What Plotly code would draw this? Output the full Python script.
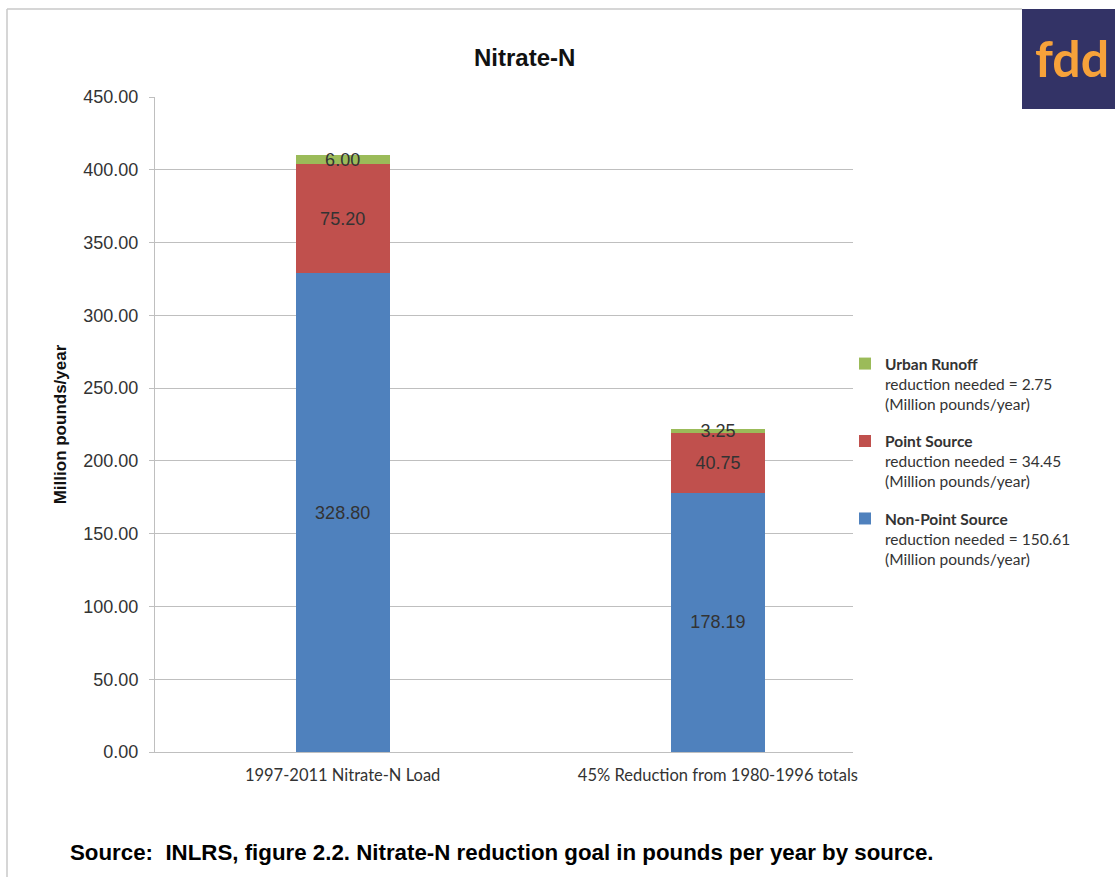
import plotly.graph_objects as go

categories = ["1997-2011 Nitrate-N Load", "45% Reduction from 1980-1996 totals"]
non_point = [328.80, 178.19]
point_src = [75.20, 40.75]
urban = [6.00, 3.25]
series_names = [
    "<b>Non-Point Source</b><br>reduction needed = 150.61<br>(Million pounds/year)",
    "<b>Point Source</b><br>reduction needed = 34.45<br>(Million pounds/year)",
    "<b>Urban Runoff</b><br>reduction needed = 2.75<br>(Million pounds/year)",
]
colors = ["#4f81bd", "#c0504d", "#9bbb59"]
legend_ranks = [3, 2, 1]
y_ticks = [0, 50, 100, 150, 200, 250, 300, 350, 400, 450]

W, H = 1115, 877
L, R, T, B = 155, 262, 97, 125
PW, PH = W - L - R, H - T - B


def xp(px):
    return (px - L) / PW


def yp(py):
    return (H - B - py) / PH


fig = go.Figure()
for i, (vals, name, col, rk) in enumerate(zip([non_point, point_src, urban], series_names, colors, legend_ranks)):
    fig.add_trace(go.Bar(
        x=categories, y=vals, name=name, legendgroup=f"g{i}", legendrank=rk,
        marker=dict(color=col, line=dict(width=0)),
        width=0.25,
        texttemplate="%{y:.2f}", textposition="inside", insidetextanchor="middle",
        textangle=0, constraintext="none",
        textfont=dict(family="Liberation Sans, Arial", size=18, color="#333333"),
        cliponaxis=False,
    ))

fig.update_layout(
    width=W, height=H,
    margin=dict(l=L, r=R, t=T, b=B),
    barmode="stack",
    paper_bgcolor="white", plot_bgcolor="white",
    showlegend=True,
    legend=dict(
        x=xp(845), y=yp(347), xanchor="left", yanchor="top",
        traceorder="grouped", tracegroupgap=14, valign="top",
        font=dict(family="Lato, Open Sans", size=15.5, color="#333333"),
        bgcolor="rgba(0,0,0,0)", itemwidth=30,
    ),
    xaxis=dict(
        range=[-0.5, 1.36],
        showline=True, linecolor="#bfbfbf", linewidth=1,
        showgrid=False, ticks="", ticklabelstandoff=8,
        tickfont=dict(family="Lato, Open Sans", size=16.5, color="#333333"),
    ),
    yaxis=dict(
        range=[0, 450], tickvals=y_ticks, tickformat=".2f",
        showline=True, linecolor="#bfbfbf", linewidth=1,
        showgrid=True, gridcolor="#bfbfbf", gridwidth=1,
        ticks="outside", ticklen=5, tickcolor="#bfbfbf", ticklabelstandoff=7,
        tickfont=dict(family="Liberation Sans, Arial", size=18, color="#333333"),
        title=dict(text="<b>Million pounds/year</b>", standoff=12,
                   font=dict(family="Liberation Sans, Arial", size=17, color="#111111")),
        zeroline=False,
    ),
)

# title
fig.add_annotation(text="<b>Nitrate-N</b>", xref="paper", yref="paper",
                   x=xp(524), y=yp(58), xanchor="center", yanchor="middle", showarrow=False,
                   font=dict(family="Liberation Sans, Arial", size=24, color="#111111"))
# caption
fig.add_annotation(text="<b>Source:  INLRS, figure 2.2. Nitrate-N reduction goal in pounds per year by source.</b>",
                   xref="paper", yref="paper", x=xp(68), y=yp(852), xanchor="left", yanchor="middle",
                   showarrow=False,
                   font=dict(family="Liberation Sans, Arial", size=22.3, color="#000000"))
# frame lines
fig.add_shape(type="line", xref="paper", yref="paper", x0=xp(7), x1=xp(1022), y0=yp(9), y1=yp(9),
              line=dict(color="#c8c8c8", width=1.5))
fig.add_shape(type="line", xref="paper", yref="paper", x0=xp(7), x1=xp(7), y0=yp(9), y1=yp(877),
              line=dict(color="#c8c8c8", width=1.5))
# logo
fig.add_shape(type="rect", xref="paper", yref="paper", x0=xp(1022), x1=xp(1115), y0=yp(9), y1=yp(109),
              fillcolor="#333366", line=dict(width=0))
fig.add_annotation(text="<b>fdd</b>", xref="paper", yref="paper", x=xp(1072), y=yp(58),
                   xanchor="center", yanchor="middle", showarrow=False,
                   font=dict(family="Lato, Open Sans", size=50, color="#f7a23a"))

fig.write_html("out.html")
